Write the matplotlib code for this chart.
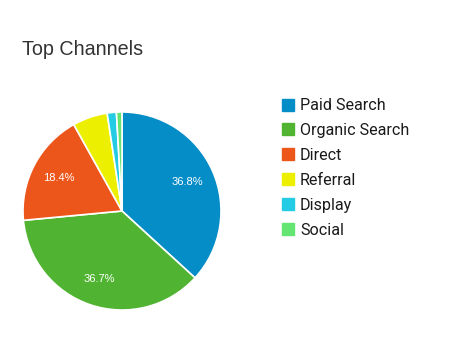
import matplotlib.pyplot as plt
from matplotlib.patches import Rectangle

channels = ["Paid Search", "Organic Search", "Direct", "Referral", "Display", "Social"]
shares = [36.8, 36.7, 18.4, 5.7, 1.5, 0.9]
colors = ["#058DC7", "#50B432", "#ED561B", "#EDEF00", "#24CBE5", "#64E572"]

W, H = 449, 361
fig = plt.figure(figsize=(W / 100, H / 100), dpi=100)

# title
fig.text(22 / W, 1 - 55 / H, "Top Channels", fontsize=14.2, color="#333333",
         family="Liberation Sans", va="baseline", ha="left")

# pie, centre ~ (122, 211) px, radius ~100 px
cx, cy, r = 122, 211, 100
ax = fig.add_axes([(cx - r) / W, 1 - (cy + r) / H, 2 * r / W, 2 * r / H])
wedges, texts, autotexts = ax.pie(
    shares, colors=colors, startangle=90, counterclock=False,
    autopct=lambda p: f"{p:.1f}%" if p > 10 else "", pctdistance=0.72,
    wedgeprops=dict(edgecolor="white", linewidth=1.2),
    textprops=dict(color="white", fontsize=8, family="Liberation Sans"))
ax.set_xlim(-1.01, 1.01)
ax.set_ylim(-1.01, 1.01)
ax.set_aspect("equal")
ax.axis("off")

# legend drawn by hand
for i, (name, col) in enumerate(zip(channels, colors)):
    yc = 104.5 + i * 24.9
    fig.add_artist(Rectangle((282 / W, 1 - (yc + 6) / H), 12 / W, 12 / H,
                             transform=fig.transFigure, color=col))
    fig.text(300 / W, 1 - yc / H, name, fontsize=11.6, color="#1a1a1a",
             family="Roboto", va="center_baseline", ha="left")

fig.savefig("out.png", dpi=100)
